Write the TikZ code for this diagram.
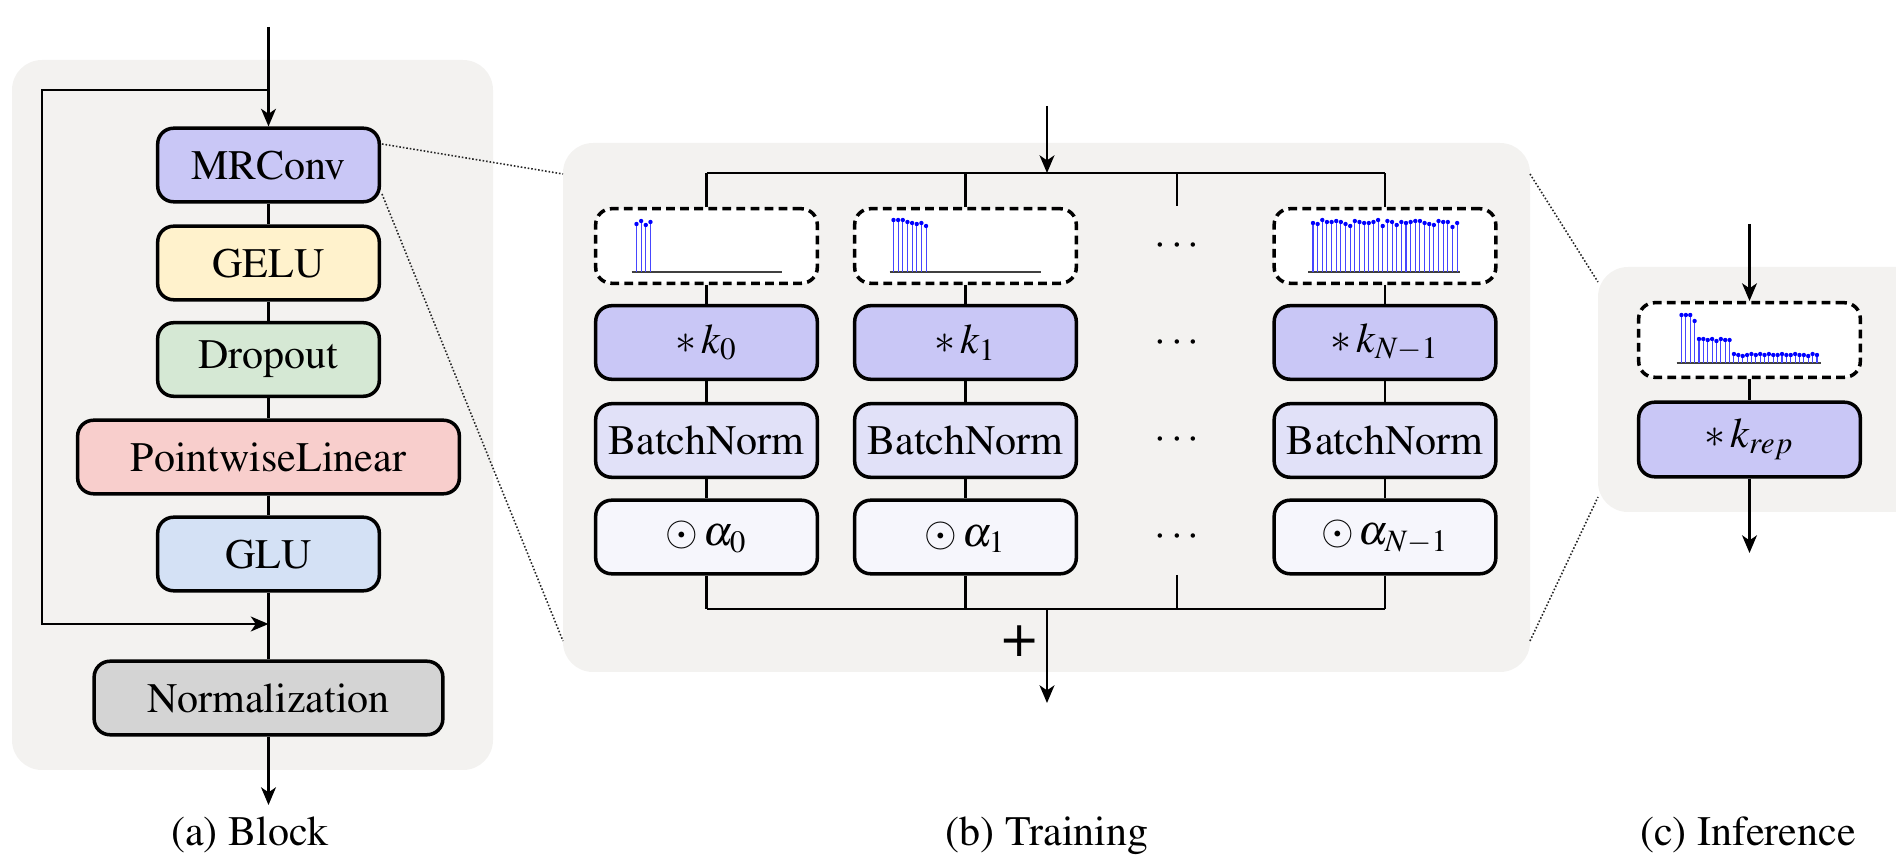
\documentclass[tikz,border=0pt]{standalone}
\usepackage[T1]{fontenc}
\usepackage{mathptmx}
\usetikzlibrary{arrows.meta}

\definecolor{panelbg}{RGB}{243,242,240}
\definecolor{convfill}{RGB}{201,199,246}
\definecolor{gelufill}{RGB}{255,242,204}
\definecolor{dropfill}{RGB}{213,232,212}
\definecolor{linfill}{RGB}{248,206,204}
\definecolor{glufill}{RGB}{212,225,245}
\definecolor{normfill}{RGB}{212,212,212}
\definecolor{bnfill}{RGB}{225,225,248}
\definecolor{scalefill}{RGB}{246,246,252}
\definecolor{stemblue}{RGB}{70,70,255}

\newcommand\mainsize{\fontsize{11.95pt}{14pt}\selectfont}

% stem plot of a kernel inside a dashed box:
% #1 node, #2 axis y offset, #3/#4 axis ends, #5 first stem x, #6 spacing, #7 heights
\newcommand\stemplot[7]{%
  \begin{scope}[shift={(#1.center)}]
    \draw[stemaxis] (#3,#2) -- (#4,#2);
    \foreach \h [count=\i from 0] in {#7}{%
      \draw[stemline] ({#5+\i*#6},#2) -- ({#5+\i*#6},{#2-\h});
      \fill[blue] ({#5+\i*#6},{#2-\h}) circle[radius=0.62pt];
    }%
  \end{scope}}

\begin{document}
\begin{tikzpicture}[x=0.01cm,y=-0.01cm,
  blk/.style={draw, line width=1pt, rounded corners=4.5pt, minimum width=2.215cm,
    minimum height=0.735cm, inner sep=0pt, font=\mainsize},
  dbox/.style={blk, fill=white, dash pattern=on 2.5pt off 1.5pt, minimum height=0.745cm},
  wire/.style={line width=0.75pt},
  arr/.style={line width=0.75pt, -{Stealth[length=5pt, width=4.2pt, inset=1.4pt]}},
  zoomline/.style={line width=0.45pt, black!85, dash pattern=on 0.45pt off 0.55pt},
  stemaxis/.style={line width=0.35pt, black!75},
  stemline/.style={line width=0.3pt, stemblue},
  dots/.style={font=\mainsize},
  caption/.style={anchor=base, font=\mainsize}]

\useasboundingbox (0,0) rectangle (1896,858);

% panel backgrounds
\fill[panelbg, rounded corners=8.5pt] (12,60) rectangle (493,770);
\fill[panelbg, rounded corners=8.5pt] (563,143) rectangle (1530,672);
\begin{scope}
  \clip (0,0) rectangle (1896,858);
  \fill[panelbg, rounded corners=8.5pt] (1598,267) rectangle (1940,512);
\end{scope}

% ---------------- (a) block ----------------
\node[blk, fill=convfill] (mr)   at (268.5,165)   {MRConv};
\node[blk, fill=gelufill] (gelu) at (268.5,263)   {GELU};
\node[blk, fill=dropfill] (drop) at (268.5,359.5) {Dropout};
\node[blk, fill=linfill, minimum width=3.815cm] (pwl) at (268.5,457) {PointwiseLinear};
\node[blk, fill=glufill]  (glu)  at (268.5,554)   {GLU};
\node[blk, fill=normfill, minimum width=3.485cm] (norm) at (268.5,698) {Normalization};

\coordinate (ain)  at (268.5,27);
\coordinate (aout) at (268.5,805);
\coordinate (sk1)  at (268.5,90);
\coordinate (sk2)  at (42,90);
\coordinate (sk3)  at (42,624);
\coordinate (sk4)  at (268.5,624);

\draw[arr] (ain) -- (mr);
\draw[wire] (mr) -- (gelu);
\draw[wire] (gelu) -- (drop);
\draw[wire] (drop) -- (pwl);
\draw[wire] (pwl) -- (glu);
\draw[wire] (glu) -- (norm);
\draw[arr] (norm) -- (aout);
\draw[arr] (sk1) -- (sk2) -- (sk3) -- (sk4);

% zoom guides
\coordinate (mrA) at (382,144);
\coordinate (mrB) at (382,194);
\coordinate (bA)  at (563,174);
\coordinate (bB)  at (563,641);
\coordinate (bC)  at (1530,174);
\coordinate (bD)  at (1530,641);
\coordinate (cA)  at (1598,282);
\coordinate (cB)  at (1598,497);
\draw[zoomline] (mrA) -- (bA);
\draw[zoomline] (mrB) -- (bB);
\draw[zoomline] (bC) -- (cA);
\draw[zoomline] (bD) -- (cB);

% ---------------- (b) training ----------------
\node[dbox] (d0) at (706.5,246) {};
\node[dbox] (d1) at (965.5,246) {};
\node[dbox] (dN) at (1385,246)  {};

\node[blk, fill=convfill] (k0) at (706.5,342.5) {$\ast\,k_0$};
\node[blk, fill=convfill] (k1) at (965.5,342.5) {$\ast\,k_1$};
\node[blk, fill=convfill] (kN) at (1385,342.5)  {$\ast\,k_{N-1}$};

\node[blk, fill=bnfill] (b0) at (706.5,440.5) {BatchNorm};
\node[blk, fill=bnfill] (b1) at (965.5,440.5) {BatchNorm};
\node[blk, fill=bnfill] (bN) at (1385,440.5)  {BatchNorm};

\node[blk, fill=scalefill] (s0) at (706.5,537) {$\odot\,\alpha_0$};
\node[blk, fill=scalefill] (s1) at (965.5,537) {$\odot\,\alpha_1$};
\node[blk, fill=scalefill] (sN) at (1385,537)  {$\odot\,\alpha_{N-1}$};

\node[dots] (dd) at (1177,246) {$\cdots$};
\node[dots] (dk) at (1177,343) {$\cdots$};
\node[dots] (db) at (1177,440) {$\cdots$};
\node[dots] (ds) at (1177,537) {$\cdots$};

\stemplot{d0}{26}{-75}{75}{-70}{4.65}{48,51,47,50}
\stemplot{d1}{26}{-76}{75}{-72}{4.65}{52,52,52,50,49,48,49,46}
\stemplot{dN}{26}{-77}{75}{-72}{4.65}{49,48,52,50,50,51,50,48,46,51,50,49,49,50,52,46,51,50,47,50,49,50,51,51,49,48,47,51,50,50,45,49}

\coordinate (bin)  at (1047,106);
\coordinate (tj)   at (1047,173);
\coordinate (t0)   at (706.5,173);
\coordinate (t1)   at (965.5,173);
\coordinate (td)   at (1177,173);
\coordinate (tdE)  at (1177,206);
\coordinate (tN)   at (1385,173);
\coordinate (u0)   at (706.5,609);
\coordinate (u1)   at (965.5,609);
\coordinate (ud)   at (1177,609);
\coordinate (udE)  at (1177,575);
\coordinate (uN)   at (1385,609);
\coordinate (uj)   at (1047,609);
\coordinate (bout) at (1047,703);

\draw[arr] (bin) -- (tj);
\draw[wire] (t0) -- (tN);
\draw[wire] (t0) -- (d0);
\draw[wire] (t1) -- (d1);
\draw[wire] (td) -- (tdE);
\draw[wire] (tN) -- (dN);
\foreach \c in {0,1,N}{
  \draw[wire] (d\c) -- (k\c);
  \draw[wire] (k\c) -- (b\c);
  \draw[wire] (b\c) -- (s\c);
}
\draw[wire] (s0) -- (u0);
\draw[wire] (s1) -- (u1);
\draw[wire] (udE) -- (ud);
\draw[wire] (sN) -- (uN);
\draw[wire] (u0) -- (uN);
\draw[arr] (uj) -- (bout);
\node[font=\LARGE] (plus) at (1020,641) {+};

% ---------------- (c) inference ----------------
\node[dbox] (dr) at (1749.5,340) {};
\node[blk, fill=convfill, minimum height=0.745cm] (kr) at (1749.5,439.5) {$\ast\,k_{rep}$};
\stemplot{dr}{23}{-73}{71}{-68}{4.37}{48,48,48,42,24,24,23,24,22,24,23,23,9,8,7,8,9,8,9,8,9,8,8,9,8,8,9,8,8,7,9,8}

\coordinate (cin)  at (1749.5,224);
\coordinate (cout) at (1749.5,553);
\draw[arr] (cin) -- (dr);
\draw[wire] (dr) -- (kr);
\draw[arr] (kr) -- (cout);

% captions
\node[caption] (capa) at (250,846)  {(a) Block};
\node[caption] (capb) at (1047,846) {(b) Training};
\node[caption] (capc) at (1748,846) {(c) Inference};
\end{tikzpicture}
\end{document}
